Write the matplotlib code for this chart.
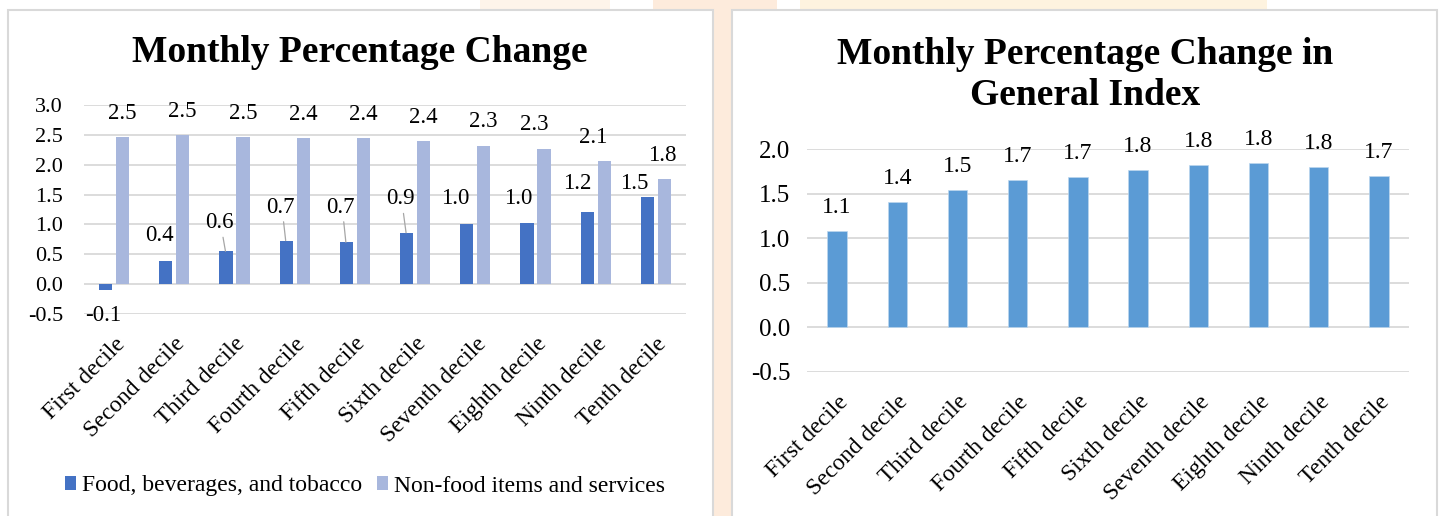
import matplotlib
matplotlib.use("Agg")
import matplotlib.pyplot as plt
import numpy as np
from matplotlib.patches import Rectangle, Patch

# ---------------- data ----------------
deciles = ["First decile", "Second decile", "Third decile", "Fourth decile",
           "Fifth decile", "Sixth decile", "Seventh decile", "Eighth decile",
           "Ninth decile", "Tenth decile"]
food = [-0.09, 0.38, 0.55, 0.73, 0.70, 0.86, 1.00, 1.03, 1.21, 1.46]
nonfood = [2.46, 2.49, 2.46, 2.44, 2.44, 2.40, 2.32, 2.27, 2.06, 1.76]
general = [1.08, 1.41, 1.54, 1.65, 1.69, 1.76, 1.82, 1.84, 1.80, 1.70]
food_labels = ["-0.1", "0.4", "0.6", "0.7", "0.7", "0.9", "1.0", "1.0", "1.2", "1.5"]
nonfood_labels = ["2.5", "2.5", "2.5", "2.4", "2.4", "2.4", "2.3", "2.3", "2.1", "1.8"]
general_labels = ["1.1", "1.4", "1.5", "1.7", "1.7", "1.8", "1.8", "1.8", "1.8", "1.7"]
series_names = ["Food, beverages, and tobacco", "Non-food items and services"]
left_title = "Monthly Percentage Change"
right_title = "Monthly Percentage Change in\nGeneral Index"

# ---------------- layout / style ----------------
# label offsets (data units) for food labels relative to bar top
food_dx = [-0.04, -0.10, -0.11, -0.10, -0.10, -0.11, -0.19, -0.14, -0.17, -0.22]
food_dy = [-0.44, 0.43, 0.48, 0.56, 0.59, 0.57, 0.43, 0.40, 0.47, 0.22]
food_leader = [False, False, True, True, True, True, False, False, False, False]
nonfood_dx = [0, 0, 0, 0, 0, 0, 0, -0.16, -0.18, -0.04]

C_FOOD = "#4472C4"
C_NONFOOD = "#A8B7DD"
C_GEN = "#5B9BD5"
C_GRID = "#D9D9D9"
FONT = "Liberation Serif"

plt.rcParams["font.family"] = [FONT, "DejaVu Serif"]

W, H = 1439, 516
fig = plt.figure(figsize=(W / 100, H / 100), dpi=100)
fig.patch.set_facecolor("white")

# background decorations (peach watermark) and panel borders
def px_rect(x0, y0, x1, y1, **kw):
    return Rectangle((x0 / W, 1 - y1 / H), (x1 - x0) / W, (y1 - y0) / H,
                     transform=fig.transFigure, **kw)

fig.add_artist(px_rect(653, 0, 777, 516, facecolor="#FDEBDC", edgecolor="none", zorder=-2))
fig.add_artist(px_rect(480, 0, 610, 10, facecolor="#FEF4EA", edgecolor="none", zorder=-2))
fig.add_artist(px_rect(800, 0, 1267, 10, facecolor="#FEF3DF", edgecolor="none", zorder=-2))
fig.add_artist(px_rect(8, 10, 713, 530, facecolor="white", edgecolor=C_GRID, lw=1.5, zorder=-1))
fig.add_artist(px_rect(732, 10, 1437, 530, facecolor="white", edgecolor=C_GRID, lw=1.5, zorder=-1))


def style_axes(ax, ylim, yticks, tick_fs, ypad):
    ax.set_zorder(2)
    ax.set_facecolor("none")
    ax.set_ylim(*ylim)
    ax.set_yticks(yticks)
    ax.set_yticklabels([f"{t:.1f}" for t in yticks], fontsize=tick_fs)
    ax.set_xlim(-0.5, len(deciles) - 0.5)
    ax.set_xticks(np.arange(len(deciles)))
    ax.set_xticklabels(deciles, rotation=45, ha="right", va="top",
                       rotation_mode="anchor", fontsize=17)
    ax.tick_params(axis="both", length=0)
    ax.tick_params(axis="y", pad=ypad)
    ax.tick_params(axis="x", pad=14)
    for s in ax.spines.values():
        s.set_visible(False)
    ax.yaxis.grid(True, color=C_GRID, lw=1.3)
    ax.set_axisbelow(True)


# ---------------- left chart ----------------
axL = fig.add_axes([84 / W, 1 - 314 / H, (686 - 84) / W, (314 - 105) / H])
x = np.arange(len(deciles))
bw = 0.22
off = 0.14
axL.bar(x - off, food, bw, color=C_FOOD, zorder=2)
axL.bar(x + off, nonfood, bw, color=C_NONFOOD, zorder=2)
style_axes(axL, (-0.5, 3.0), np.arange(-0.5, 3.01, 0.5), 16, 15)

for i in range(len(deciles)):
    bx = x[i] - off
    tx, ty = bx + food_dx[i], food[i] + food_dy[i]
    if food_leader[i]:
        axL.annotate(food_labels[i], xy=(bx - 0.01, food[i]), xytext=(tx, ty),
                     ha="center", va="center", fontsize=16.5,
                     arrowprops=dict(arrowstyle="-", color="#A6A6A6", lw=0.9,
                                     shrinkA=1, shrinkB=0, relpos=(0.6, 0.0)))
    else:
        axL.text(tx, ty, food_labels[i], ha="center", va="center", fontsize=16.5)
    axL.annotate(nonfood_labels[i], xy=(x[i] + off + nonfood_dx[i], nonfood[i]),
                 xytext=(0, 17), textcoords="offset points",
                 ha="center", va="center", fontsize=16.5)

fig.text(360 / W, 1 - 53 / H, left_title, ha="center", va="center",
         fontsize=27, fontweight="bold")

handles = [Patch(facecolor=C_FOOD), Patch(facecolor=C_NONFOOD)]
fig.legend(handles, series_names, loc="center", bbox_to_anchor=(365 / W, 1 - 486 / H),
           ncol=2, frameon=False, fontsize=17, handlelength=0.5, handleheight=0.5,
           handletextpad=0.25, columnspacing=0.6)

# ---------------- right chart ----------------
axR = fig.add_axes([807 / W, 1 - 372 / H, (1409 - 807) / W, (372 - 149) / H])
axR.bar(x, general, 0.32, color=C_GEN, edgecolor="#BDD7EE", lw=0.5, zorder=2)
style_axes(axR, (-0.5, 2.0), np.arange(-0.5, 2.01, 0.5), 18, 12)
for i in range(len(deciles)):
    axR.annotate(general_labels[i], xy=(x[i], general[i]), xytext=(0, 17),
                 textcoords="offset points", ha="center", va="center", fontsize=17)

fig.text(1085 / W, 1 - 75 / H, right_title, ha="center", va="center",
         fontsize=27, fontweight="bold", linespacing=1.2)

fig.savefig("out.png", dpi=100, facecolor=fig.get_facecolor())
